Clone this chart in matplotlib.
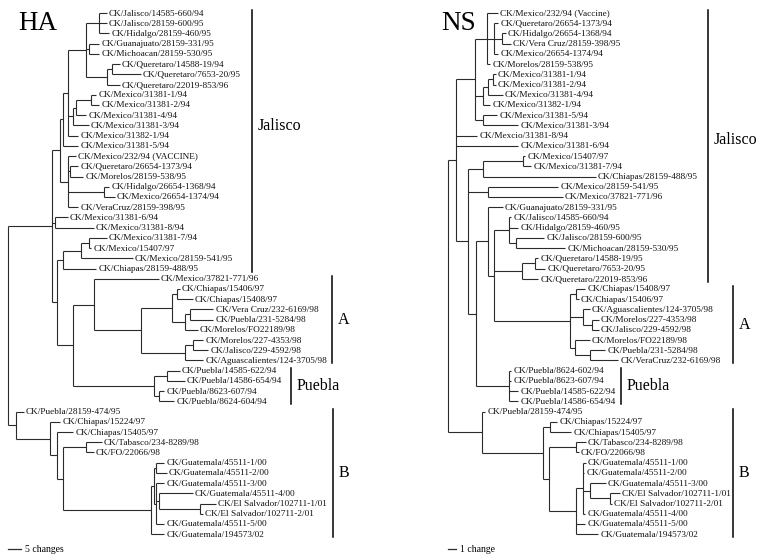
import matplotlib
matplotlib.use("Agg")
import matplotlib.pyplot as plt
from matplotlib.collections import LineCollection

plt.rcParams['font.family'] = ['Liberation Serif', 'DejaVu Serif']

# Trees, branch lengths in changes (parsimony).
HA_NEWICK = (
	"((((((('CK/Jalisco/14585-660/94':3,'CK/Jalisco/28159-600/95':3,'CK/Hidalgo/28159-460/95':4):5,"
	"('CK/Guanajuato/28159-331/95':4,'CK/Michoacan/28159-530/95':4):1,"
	"(('CK/Queretaro/14588-19/94':3,'CK/Queretaro/7653-20/95':11):2,'CK/Queretaro/22019-853/96':5):8):7,"
	"((('CK/Mexico/31381-1/94':2,'CK/Mexico/31381-2/94':3):6,'CK/Mexico/31381-4/94':4):1,'CK/Mexico/31381-3/94':6):2,"
	"'CK/Mexico/31382-1/94':4):2,"
	"'CK/Mexico/31381-5/94':6):1,"
	"('CK/Mexico/232/94 (VACCINE)':3,('CK/Queretaro/26654-1373/94':3,'CK/Morelos/28159-538/95':5):1,"
	"('CK/Hidalgo/26654-1368/94':2,'CK/Mexico/26654-1374/94':4):14,'CK/VeraCruz/28159-398/95':4):3):3,"
	"('CK/Mexico/31381-6/94':5,'CK/Mexico/31381-8/94':15):1,"
	"(((('CK/Mexico/31381-7/94':7,'CK/Mexico/15407/97':1):3,'CK/Mexico/28159-541/95':20):7,'CK/Chiapas/28159-488/95':13):2,"
	"(('CK/Mexico/37821-771/96':25,"
	"((('CK/Chiapas/15406/97':1,'CK/Chiapas/15408/97':6):2,"
	"(('CK/Vera Cruz/232-6169/98':9,'CK/Puebla/231-5284/98':9):2,'CK/Morelos/FO22189/98':5):5):12,"
	"(('CK/Morelos/227-4353/98':4,'CK/Jalisco/229-4592/98':6):3,'CK/Aguascalientes/124-3705/98':7):17):18):8,"
	"(('CK/Puebla/14585-622/94':5,'CK/Puebla/14586-654/94':7):5,('CK/Puebla/8623-607/94':2,'CK/Puebla/8624-604/94':6):2):31):6):2):17,"
	"('CK/Puebla/28159-474/95':3,"
	"('CK/Chiapas/15224/97':4,"
	"('CK/Chiapas/15405/97':6,"
	"(('CK/Tabasco/234-8289/98':6,'CK/FO/22066/98':3):9,"
	"((('CK/Guatemala/45511-1/00':3,'CK/Guatemala/45511-2/00':4):1,"
	"('CK/Guatemala/45511-3/00':3,('CK/Guatemala/45511-4/00':13,('CK/El Salvador/102711-1/01':6,'CK/El Salvador/102711-2/01':1):16):1,"
	"'CK/Guatemala/45511-5/00':3):1):1,"
	"'CK/Guatemala/194573/02':5):34):2):3):13):3)"
)

NS_NEWICK = (
	"(((('CK/Mexico/232/94 (Vaccine)':1.5,"
	"('CK/Queretaro/26654-1373/94':0.5,('CK/Hidalgo/26654-1368/94':0.5,'CK/Vera Cruz/28159-398/95':1.2):1,'CK/Mexico/26654-1374/94':0.5):1,"
	"'CK/Morelos/28159-538/95':0.5):1.5,"
	"((('CK/Mexico/31381-1/94':0.4,'CK/Mexico/31381-2/94':0.4):0.6,'CK/Mexico/31381-4/94':1.9):0.7,'CK/Mexico/31382-1/94':1):1,"
	"('CK/Mexico/31381-5/94':1.9,'CK/Mexico/31381-3/94':4.6):1):2.5,"
	"'CK/Mexcio/31381-8/94':2.8,"
	"'CK/Mexico/31381-6/94':8.1,"
	"((('CK/Mexico/15407/97':0.3,'CK/Mexico/31381-7/94':1.1):5.2,'CK/Chiapas/28159-488/95':14.7):1.9,"
	"('CK/Mexico/28159-541/95':9.1,'CK/Mexico/37821-771/96':9.7):2.6,"
	"(('CK/Guanajuato/28159-331/95':1.9,"
	"(('CK/Jalisco/14585-660/94':0.3,'CK/Hidalgo/28159-460/95':1.2,('CK/Jalisco/28159-600/95':3.7,'CK/Michoacan/28159-530/95':6.4):0.9):1.9,"
	"(('CK/Queretaro/14588-19/95':0.4,'CK/Queretaro/7653-20/95':1.3):1.7,'CK/Queretaro/22019-853/96':2.1):3.6,"
	"(('CK/Chiapas/15408/97':1.2,'CK/Chiapas/15406/97':0.4):0.8,"
	"('CK/Aguascalientes/124-3705/98':0.9,('CK/Morelos/227-4353/98':0.9,'CK/Jalisco/229-4592/98':0.9):1.2):1.7,"
	"('CK/Morelos/FO22189/98':1.9,('CK/Puebla/231-5284/98':2,'CK/VeraCruz/232-6169/98':3.7):1.9):0.7):9.8):0.8):1.6,"
	"('CK/Puebla/8624-602/94':0.3,'CK/Puebla/8623-607/94':0.3,'CK/Puebla/14585-622/94':1.2,'CK/Puebla/14586-654/94':1.2):4.3):1):1.6):1,"
	"('CK/Puebla/28159-474/95':0.4,"
	"(('CK/Chiapas/15224/97':1,'CK/Chiapas/15405/97':2.8):0.9,"
	"(('CK/Tabasco/234-8289/98':1.3,'CK/FO/22066/98':0.4):3.5,"
	"(('CK/Guatemala/45511-1/00':0.4,'CK/Guatemala/45511-2/00':0.2,"
	"('CK/Guatemala/45511-3/00':2.1,('CK/El Salvador/102711-1/01':1.3,'CK/El Salvador/102711-2/01':0.3):2.6):0.9,"
	"'CK/Guatemala/45511-4/00':0.3):0.9,"
	"'CK/Guatemala/45511-5/00':1.2,"
	"'CK/Guatemala/194573/02':2.9):3.5):0.8):7.9):4.4)"
)

# clade name, first tip, last tip
HA_CLADES = ["Jalisco", "A", "Puebla", "B"]
HA_CLADE_FIRST = ["CK/Jalisco/14585-660/94", "CK/Mexico/37821-771/96", "CK/Puebla/14585-622/94", "CK/Puebla/28159-474/95"]
HA_CLADE_LAST = ["CK/Chiapas/28159-488/95", "CK/Aguascalientes/124-3705/98", "CK/Puebla/8624-604/94", "CK/Guatemala/194573/02"]

NS_CLADES = ["Jalisco", "A", "Puebla", "B"]
NS_CLADE_FIRST = ["CK/Mexico/232/94 (Vaccine)", "CK/Chiapas/15408/97", "CK/Puebla/8624-602/94", "CK/Puebla/28159-474/95"]
NS_CLADE_LAST = ["CK/Queretaro/22019-853/96", "CK/VeraCruz/232-6169/98", "CK/Puebla/14586-654/94", "CK/Guatemala/194573/02"]

HA_SCALE_CHANGES = 5
NS_SCALE_CHANGES = 1


def parse_newick(text):
	pos = 0

	def node():
		nonlocal pos
		children = []
		name = ""
		if text[pos] == "(":
			pos += 1
			children.append(node())
			while text[pos] == ",":
				pos += 1
				children.append(node())
			pos += 1
		if pos < len(text) and text[pos] == "'":
			end = text.index("'", pos + 1)
			name = text[pos + 1:end]
			pos = end + 1
		length = 0.0
		if pos < len(text) and text[pos] == ":":
			pos += 1
			start = pos
			while text[pos] not in ",);":
				pos += 1
			length = float(text[start:pos])
		return {"name": name, "length": length, "children": children}

	return node()


# Rectangular cladogram layout: tips on even rows, nodes midway between outer children.
def layout(tree, x0, px_per_change, y0, dy):
	segs = []
	tips = {}
	row = [0]

	def walk(n, depth):
		d = depth + n["length"]
		x = x0 + d * px_per_change
		if not n["children"]:
			y = y0 + row[0] * dy
			row[0] += 1
			tips[n["name"]] = (x, y)
			return x, y
		pts = [walk(c, d) for c in n["children"]]
		for cx, cy in pts:
			segs.append([(x, cy), (cx, cy)])
		segs.append([(x, pts[0][1]), (x, pts[-1][1])])
		return x, (pts[0][1] + pts[-1][1]) / 2

	walk(tree, 0.0)
	return segs, tips


def draw_tree(ax, newick, x0, px_per_change, title, title_x, clades, firsts, lasts, bracket_x, label_dy, scale_changes, scale_word):
	y0, dy = 13.0, 10.22
	segs, tips = layout(parse_newick(newick), x0, px_per_change, y0, dy)
	ax.add_collection(LineCollection(segs, colors="#2b2b2b", linewidths=0.8))
	for name, (x, y) in tips.items():
		ax.text(x + 2.2, y + 0.5, name, fontsize=6.7, va="center", ha="left", color="#111111")

	ax.text(title_x, 24, title, fontsize=19.5, va="center", ha="left")

	for i, clade in enumerate(clades):
		ya = tips[firsts[i]][1] - 3
		yb = tips[lasts[i]][1] + 3
		bx = bracket_x[i]
		ax.plot([bx, bx], [ya, yb], color="black", lw=1.1)
		ax.text(bx + 6, (ya + yb) / 2 + label_dy[i], clade, fontsize=11.5, va="center", ha="left")

	# scale bar
	ys = 549
	ax.plot([x0, x0 + scale_changes * px_per_change], [ys, ys], color="#2b2b2b", lw=0.9)
	ax.text(x0 + scale_changes * px_per_change + 4, ys, "%d %s" % (scale_changes, scale_word), fontsize=7, va="center", ha="left")


def main() -> None:
	fig = plt.figure(figsize=(7.61, 5.6), dpi=100)
	ax = fig.add_axes([0, 0, 1, 1])
	ax.set_xlim(0, 761)
	ax.set_ylim(560, 0)
	ax.axis("off")

	draw_tree(ax, HA_NEWICK, 8, 2.6, "HA", 18, HA_CLADES, HA_CLADE_FIRST, HA_CLADE_LAST,
		[252, 332, 291, 333], [-15, 0, 0, 0], HA_SCALE_CHANGES, "changes")
	draw_tree(ax, NS_NEWICK, 448, 7.7, "NS", 441, NS_CLADES, NS_CLADE_FIRST, NS_CLADE_LAST,
		[708, 733, 621, 733], [-6, 0, 0, 0], NS_SCALE_CHANGES, "change")

	fig.savefig("out.png", dpi=100)


if __name__ == "__main__":
	main()
